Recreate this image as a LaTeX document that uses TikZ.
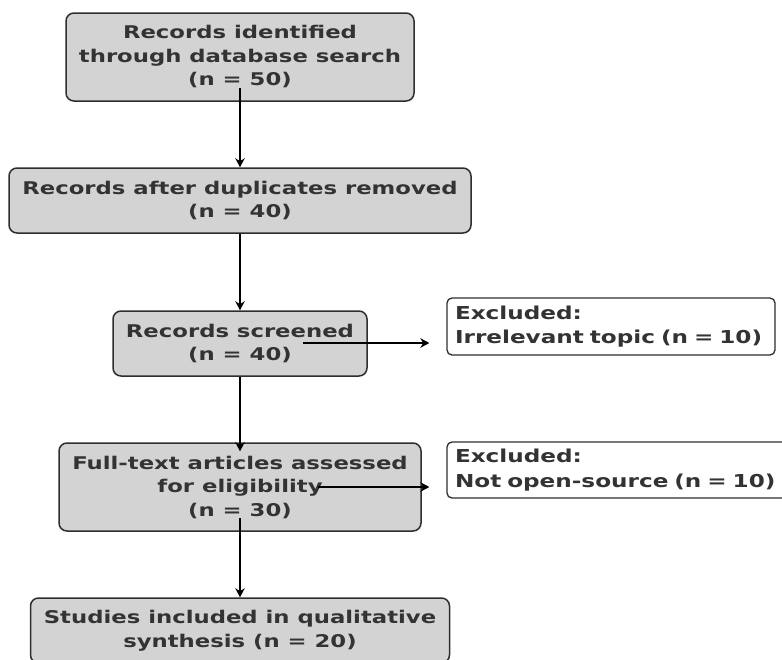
\documentclass[tikz,border=0pt]{standalone}
\usepackage{fontspec}
\newfontfamily\lblfont[FakeStretch=1.3]{DejaVu Sans}
\usetikzlibrary{arrows.meta,calc}
\definecolor{boxfill}{HTML}{D3D3D3}
\definecolor{txtcol}{HTML}{333333}
\definecolor{edgecol}{HTML}{2E2E2E}
\begin{document}
\begin{tikzpicture}[x=1pt,y=-1pt,
  lbl/.style={font=\lblfont\bfseries\fontsize{17.5}{23.5}\selectfont, text=txtcol},
  stage/.style={lbl, draw=edgecol, line width=1.5pt, fill=boxfill, rounded corners=8pt,
    inner sep=0pt, align=center},
  exclbox/.style={lbl, font=\lblfont\bfseries\fontsize{17.8}{24.5}\selectfont,
    draw=edgecol, line width=1.3pt, fill=white, rounded corners=5pt,
    inner xsep=8pt, inner ysep=0pt, align=left},
  arr/.style={line width=2.2pt, black, -{Stealth[length=9pt,width=9.5pt]}}]
\useasboundingbox (0,0) rectangle (782,659);
\clip (0,0) rectangle (782,659);

\node[stage, minimum width=348pt, minimum height=88pt] (b1) at (240,57)
  {Records identified\\through database search\\(n = 50)};
\node[stage, minimum width=462pt, minimum height=65pt] (b2) at (240,200.5)
  {Records after duplicates removed\\(n = 40)};
\node[stage, minimum width=254pt, minimum height=65pt] (b3) at (240,343.5)
  {Records screened\\(n = 40)};
\node[stage, minimum width=362pt, minimum height=88pt] (b4) at (240,487)
  {Full-text articles assessed\\for eligibility\\(n = 30)};
\node[stage, minimum width=419pt, minimum height=65pt] (b5) at (240,630.5)
  {Studies included in qualitative\\synthesis (n = 20)};

\node[exclbox, text width=312pt, minimum height=57pt] (e1) at (611,326.5)
  {Excluded:\\\mbox{Irrelevant topic (n = 10)}};
\node[exclbox, text width=324pt, minimum height=56pt] (e2) at (617,470)
  {Excluded:\\\mbox{Not open-source (n = 10)}};

\coordinate (s1) at (240,88);
\coordinate (s4) at (240,518);
\coordinate (h1) at (303,343);
\coordinate (h2) at (318,487);

\draw[arr] (s1) -- (b2.north);
\draw[arr] (b2.south) -- (b3.north);
\draw[arr, shorten >=-9pt] (b3.south) -- (b4.north);
\draw[arr] (s4) -- (b5.north);
\draw[arr, shorten >=17pt] (h1) -- (h1 -| e1.west);
\draw[arr, shorten >=17pt] (h2) -- (h2 -| e2.west);
\end{tikzpicture}
\end{document}
